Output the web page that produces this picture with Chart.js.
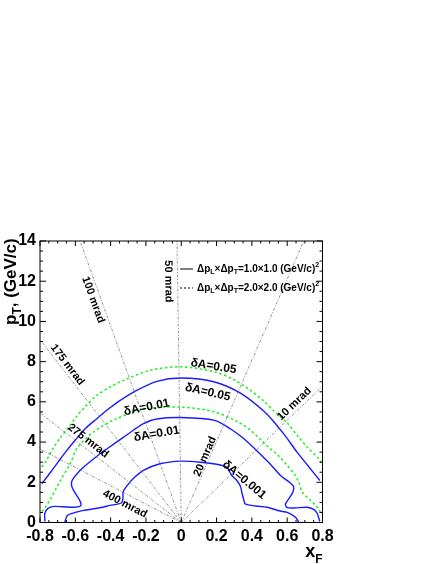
<!DOCTYPE html>
<html><head><meta charset="utf-8">
<script src="https://cdn.jsdelivr.net/npm/chart.js@4"></script>
<style>html,body{margin:0;padding:0;background:#fff}#wrap{width:436px;height:564px;position:relative}</style>
</head><body><div id="wrap"><canvas id="c"></canvas></div>
<script>
const xTickValues = [-0.8,-0.6,-0.4,-0.2,0,0.2,0.4,0.6,0.8];
const xTickLabels = ['-0.8','-0.6','-0.4','-0.2','0','0.2','0.4','0.6','0.8'];
const yTickValues = [0,2,4,6,8,10,12,14];
const yTickLabels = ['0','2','4','6','8','10','12','14'];

// constant-angle lines from the origin (lab angle)
const angleNames = ['400 mrad','275 mrad','175 mrad','100 mrad','50 mrad','20 mrad','10 mrad'];
const angleEndX = [-0.8,-0.8,-0.8,-0.573,-0.024,0.694,0.8];
const angleEndY = [3.65,5.45,9.1,14,14,14,6.78];

// contours, dp 1.0x1.0 (solid)
const blue005X = [-0.79,-0.74,-0.698,-0.66,-0.6,-0.54,-0.48,-0.422,-0.35,-0.27,-0.138,0,0.189,0.34,0.473,0.53,0.587,0.656,0.72,0.785];
const blue005Y = [1.93,2.5,3.0,3.45,4.1,4.7,5.15,5.58,6.05,6.49,7.02,7.19,6.99,6.41,5.5,4.95,4.33,3.5,2.8,2.09];
const blue001X = [-0.772,-0.773,-0.755,-0.72,-0.668,-0.6,-0.568,-0.575,-0.6,-0.62,-0.618,-0.56,-0.46,-0.42,-0.33,-0.27,-0.214,-0.138,0,0.189,0.28,0.35,0.416,0.454,0.5,0.562,0.61,0.636,0.632,0.609,0.59,0.6,0.64,0.713,0.75,0.77,0.785];
const blue001Y = [0.05,0.45,0.7,0.8,0.78,0.76,0.85,1.1,1.45,1.8,2.1,2.7,3.42,3.67,4.22,4.6,4.92,5.15,5.22,5.08,4.65,4.2,3.67,3.34,2.95,2.34,2.02,1.8,1.5,1.18,0.9,0.74,0.72,0.76,0.65,0.45,0.05];
const blue0001X = [-0.66,-0.645,-0.6,-0.554,-0.47,-0.403,-0.34,-0.33,-0.33,-0.31,-0.27,-0.214,-0.12,0,0.108,0.2,0.259,0.285,0.315,0.335,0.345,0.355,0.362,0.42,0.486,0.56,0.6,0.647,0.666];
const blue0001Y = [0.0,0.35,0.5,0.6,0.72,0.85,0.97,1.2,1.51,1.8,2.2,2.59,2.92,3.05,3.0,2.9,2.74,2.35,2.09,1.8,1.43,1.1,0.93,0.82,0.76,0.57,0.5,0.26,0.0];
// contours, dp 2.0x2.0 (dashed)
const green005X = [-0.79,-0.764,-0.725,-0.69,-0.641,-0.6,-0.54,-0.478,-0.4,-0.327,-0.176,0,0.189,0.3,0.378,0.46,0.53,0.6,0.66,0.713,0.779,0.8];
const green005Y = [2.76,3.09,3.7,4.15,4.7,5.2,5.8,6.33,6.75,7.07,7.57,7.74,7.49,7.1,6.66,6.1,5.5,4.95,4.3,3.75,3.17,2.84];
const green001X = [-0.79,-0.774,-0.74,-0.69,-0.625,-0.59,-0.497,-0.365,-0.195,0,0.189,0.321,0.39,0.454,0.5,0.549,0.6,0.645,0.666,0.685,0.732,0.779,0.79];
const green001Y = [0.55,0.7,1.18,2.0,3.0,3.7,4.5,5.17,5.66,5.74,5.5,5.0,4.6,4.09,3.7,3.34,2.84,2.35,2.0,1.51,1.1,0.68,0.43];

const contourNames = ['δA=0.05','δA=0.05','δA=0.01','δA=0.01','δA=0.001'];
const legendTexts = [
  [['Δp'],['L','sub'],['×Δp'],['T','sub'],['=1.0×1.0 (GeV/c)'],['2','sup']],
  [['Δp'],['L','sub'],['×Δp'],['T','sub'],['=2.0×2.0 (GeV/c)'],['2','sup']]
];

const FONT = '"Liberation Sans", Arial, Helvetica, sans-serif';
Chart.defaults.font.family = FONT;

function pts(xs, ys){ return xs.map((v,i)=>({x:v, y:ys[i]})); }

const datasets = [];
angleNames.forEach((n,i)=>{
  datasets.push({label:n, data:pts([0,angleEndX[i]],[0,angleEndY[i]]), showLine:true, pointRadius:0,
    borderColor:'#6a6a6a', borderWidth:0.7, borderDash:[3,1.5,1,1.5], tension:0});
});
const BLUE='#1a1aff', GREEN='#1ef01e';
datasets.push({label:'g005', data:pts(green005X,green005Y), showLine:true, pointRadius:0, borderColor:GREEN, borderWidth:1.5, borderDash:[2.5,2.5], tension:0.3});
datasets.push({label:'g001', data:pts(green001X,green001Y), showLine:true, pointRadius:0, borderColor:GREEN, borderWidth:1.5, borderDash:[2.5,2.5], tension:0.3});
datasets.push({label:'b005', data:pts(blue005X,blue005Y), showLine:true, pointRadius:0, borderColor:BLUE, borderWidth:1.4, tension:0.3});
datasets.push({label:'b001', data:pts(blue001X,blue001Y), showLine:true, pointRadius:0, borderColor:BLUE, borderWidth:1.4, tension:0.25});
datasets.push({label:'b0001', data:pts(blue0001X,blue0001Y), showLine:true, pointRadius:0, borderColor:BLUE, borderWidth:1.4, tension:0.25});

function richText(ctx, parts, x, y, size){
  let cx = x;
  parts.forEach(p=>{
    const kind = p[1];
    const fs = kind ? Math.round(size*0.7) : size;
    const dy = kind==='sub' ? size*0.3 : (kind==='sup' ? -size*0.4 : 0);
    ctx.font = 'bold '+fs+'px '+FONT;
    ctx.fillText(p[0], cx, y+dy);
    cx += ctx.measureText(p[0]).width;
  });
}

const overlay = {
  id:'overlay',
  afterDatasetsDraw(chart, args, opts){
    const {ctx, chartArea:a, scales:{x,y}} = chart;
    ctx.save();
    ctx.fillStyle='#000'; ctx.strokeStyle='#000';
    // frame
    ctx.lineWidth=1;
    ctx.strokeRect(a.left, a.top, a.right-a.left, a.bottom-a.top);
    // inner ticks
    ctx.beginPath();
    for (let i=0;i<=32;i++){
      const px = x.getPixelForValue(-0.8+i*0.05);
      const L = (i%4===0)?5:2.5;
      ctx.moveTo(px,a.bottom); ctx.lineTo(px,a.bottom-L);
      ctx.moveTo(px,a.top); ctx.lineTo(px,a.top+L);
    }
    for (let i=0;i<=28;i++){
      const py = y.getPixelForValue(i*0.5);
      const L = (i%4===0)?6:3;
      ctx.moveTo(a.left,py); ctx.lineTo(a.left+L,py);
      ctx.moveTo(a.right,py); ctx.lineTo(a.right-L,py);
    }
    ctx.stroke();

    // angle labels
    const ox = x.getPixelForValue(0), oy = y.getPixelForValue(0);
    ctx.textAlign='center'; ctx.textBaseline='middle';
    ctx.font='bold 11px '+FONT;
    angleNames.forEach((n,i)=>{
      const ex = x.getPixelForValue(angleEndX[i]), ey = y.getPixelForValue(angleEndY[i]);
      let dx = ex-ox, dy = ey-oy;
      if (dx<0){dx=-dx;dy=-dy;}
      const ang = Math.atan2(dy,dx);
      const p = opts.angleLabelPos[i];
      ctx.save();
      ctx.translate(x.getPixelForValue(p[0]), y.getPixelForValue(p[1]));
      ctx.rotate(ang);
      ctx.fillText(n,0,0);
      ctx.restore();
    });
    // contour labels
    ctx.font='bold 12px '+FONT;
    contourNames.forEach((n,i)=>{
      const p = opts.contourLabelPos[i];
      ctx.save();
      ctx.translate(x.getPixelForValue(p[0]), y.getPixelForValue(p[1]));
      ctx.rotate(p[2]*Math.PI/180);
      ctx.fillText(n,0,0);
      ctx.restore();
    });
    // legend
    ctx.textAlign='left'; ctx.textBaseline='middle';
    const lx0 = a.left+140, lx1 = a.left+153, tx = a.left+157;
    const rows = [a.top+28, a.top+47];
    ctx.lineWidth=1;
    ctx.beginPath(); ctx.moveTo(lx0,rows[0]); ctx.lineTo(lx1,rows[0]); ctx.stroke();
    ctx.setLineDash([2,2]);
    ctx.beginPath(); ctx.moveTo(lx0,rows[1]); ctx.lineTo(lx1,rows[1]); ctx.stroke();
    ctx.setLineDash([]);
    legendTexts.forEach((t,i)=>richText(ctx,t,tx,rows[i],10));

    // axis titles
    ctx.textBaseline='alphabetic';
    ctx.save();
    ctx.translate(16, a.top+84);
    ctx.rotate(-Math.PI/2);
    richText(ctx, [['p'],['T','sub'],[', (GeV/c)']], 0, 0, 17);
    ctx.restore();
    ctx.font='bold 12px '+FONT;
    const wF = ctx.measureText('F').width;
    ctx.font='bold 18px '+FONT;
    const wx = ctx.measureText('x').width;
    ctx.fillText('x', a.right-wF-wx, 556.5);
    ctx.font='bold 12px '+FONT;
    ctx.fillText('F', a.right-wF, 562.5);
    ctx.restore();
  }
};

new Chart(document.getElementById('c'), {
  type:'scatter',
  data:{datasets},
  options:{
    responsive:true, maintainAspectRatio:false, animation:false,
    layout:{padding:{left:0, top:241, right:113.5, bottom:0}},
    plugins:{
      legend:{display:false}, tooltip:{enabled:false},
      overlay:{
        angleLabelPos:[[-0.319,0.92],[-0.527,4.06],[-0.645,7.84],[-0.499,11.08],[-0.073,11.99],[0.135,3.28],[0.641,5.90]],
        contourLabelPos:[[0.183,7.76,9],[0.150,6.47,13],[-0.196,5.72,-11],[-0.139,4.40,-10],[0.356,2.12,40]]
      }
    },
    scales:{
      x:{type:'linear', min:-0.8, max:0.8,
        afterBuildTicks:s=>{s.ticks = xTickValues.map(v=>({value:v}));},
        afterFit:s=>{s.height = 41.5;},
        grid:{display:false, drawTicks:false}, border:{display:false},
        ticks:{autoSkip:false, maxRotation:0, padding:4, color:'#000', font:{size:16, weight:'bold'},
          callback:(v,i)=>xTickLabels[i]}},
      y:{type:'linear', min:0, max:14,
        afterBuildTicks:s=>{s.ticks = yTickValues.map(v=>({value:v}));},
        afterFit:s=>{s.width = 40;},
        grid:{display:false, drawTicks:false}, border:{display:false},
        ticks:{autoSkip:false, padding:4, color:'#000', font:{size:16, weight:'bold'},
          callback:(v,i)=>yTickLabels[i]}}
    }
  },
  plugins:[overlay]
});
</script>
</body></html>
